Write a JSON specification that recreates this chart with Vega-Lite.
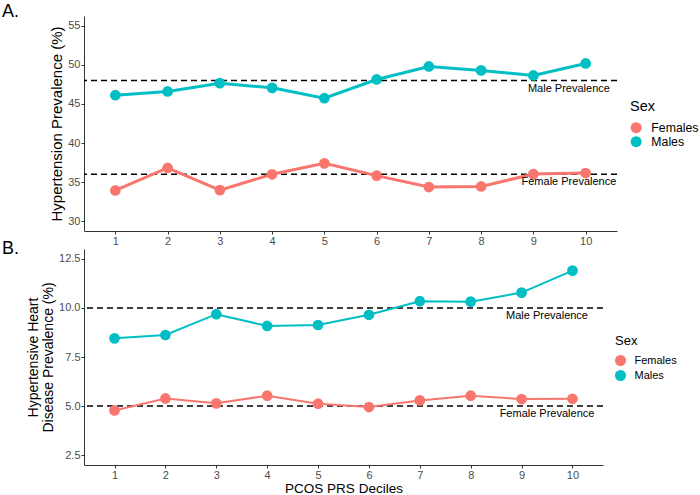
{
  "$schema": "https://vega.github.io/schema/vega-lite/v6.json",
  "padding": {"left": 2, "top": 3, "right": 0, "bottom": 0},
  "background": "white",
  "spacing": -6,
  "config": {
    "view": {"stroke": null},
    "font": "Liberation Sans",
    "axis": {
      "grid": false,
      "domainColor": "#333333",
      "domainWidth": 1,
      "tickColor": "#333333",
      "tickSize": 3,
      "labelColor": "#4D4D4D",
      "labelFontSize": 11,
      "labelPadding": 1,
      "titleColor": "black",
      "titleFontWeight": "normal"
    },
    "legend": {
      "titleFontWeight": "normal",
      "titleColor": "black",
      "labelColor": "black",
      "symbolType": "circle",
      "symbolStrokeWidth": 0
    }
  },
  "datasets": {
    "ht": [
      {"decile": 1, "sex": "Females", "value": 33.94},
      {"decile": 2, "sex": "Females", "value": 36.81},
      {"decile": 3, "sex": "Females", "value": 33.98},
      {"decile": 4, "sex": "Females", "value": 36.0},
      {"decile": 5, "sex": "Females", "value": 37.4},
      {"decile": 6, "sex": "Females", "value": 35.83},
      {"decile": 7, "sex": "Females", "value": 34.37},
      {"decile": 8, "sex": "Females", "value": 34.45},
      {"decile": 9, "sex": "Females", "value": 36.03},
      {"decile": 10, "sex": "Females", "value": 36.16},
      {"decile": 1, "sex": "Males", "value": 46.12},
      {"decile": 2, "sex": "Males", "value": 46.6},
      {"decile": 3, "sex": "Males", "value": 47.66},
      {"decile": 4, "sex": "Males", "value": 47.06},
      {"decile": 5, "sex": "Males", "value": 45.74},
      {"decile": 6, "sex": "Males", "value": 48.13},
      {"decile": 7, "sex": "Males", "value": 49.8},
      {"decile": 8, "sex": "Males", "value": 49.29},
      {"decile": 9, "sex": "Males", "value": 48.65},
      {"decile": 10, "sex": "Males", "value": 50.18}
    ],
    "htRef": [
      {"sex": "Males", "prev": 48, "label": "Male Prevalence"},
      {"sex": "Females", "prev": 36, "label": "Female Prevalence"}
    ],
    "hhd": [
      {"decile": 1, "sex": "Females", "value": 4.78},
      {"decile": 2, "sex": "Females", "value": 5.39},
      {"decile": 3, "sex": "Females", "value": 5.14},
      {"decile": 4, "sex": "Females", "value": 5.53},
      {"decile": 5, "sex": "Females", "value": 5.12},
      {"decile": 6, "sex": "Females", "value": 4.95},
      {"decile": 7, "sex": "Females", "value": 5.29},
      {"decile": 8, "sex": "Females", "value": 5.53},
      {"decile": 9, "sex": "Females", "value": 5.36},
      {"decile": 10, "sex": "Females", "value": 5.37},
      {"decile": 1, "sex": "Males", "value": 8.45},
      {"decile": 2, "sex": "Males", "value": 8.62},
      {"decile": 3, "sex": "Males", "value": 9.68},
      {"decile": 4, "sex": "Males", "value": 9.08},
      {"decile": 5, "sex": "Males", "value": 9.13},
      {"decile": 6, "sex": "Males", "value": 9.65},
      {"decile": 7, "sex": "Males", "value": 10.34},
      {"decile": 8, "sex": "Males", "value": 10.32},
      {"decile": 9, "sex": "Males", "value": 10.78},
      {"decile": 10, "sex": "Males", "value": 11.9}
    ],
    "hhdRef": [
      {"sex": "Males", "prev": 10, "label": "Male Prevalence"},
      {"sex": "Females", "prev": 5, "label": "Female Prevalence"}
    ]
  },
  "vconcat": [
    {
      "width": 533,
      "height": 215,
      "title": {"text": "A.", "anchor": "start", "frame": "group", "dx": -82, "offset": -19, "baseline": "alphabetic", "fontSize": 18, "fontWeight": "normal", "color": "black"},
      "layer": [
        {
          "data": {"name": "htRef"},
          "mark": {"type": "rule", "color": "black", "strokeWidth": 1.5, "strokeDash": [6, 4]},
          "encoding": {
            "y": {"field": "prev", "type": "quantitative", "scale": {"domain": [28.75, 56.25], "nice": false, "zero": false}}
          }
        },
        {
          "data": {"name": "ht"},
          "mark": {"type": "point", "filled": true, "size": 115, "opacity": 1},
          "encoding": {
            "x": {"field": "decile", "type": "quantitative", "scale": {"domain": [0.4, 10.6], "nice": false, "zero": false}, "axis": {"values": [1, 2, 3, 4, 5, 6, 7, 8, 9, 10], "title": null}},
            "y": {"field": "value", "type": "quantitative", "axis": {"values": [30, 35, 40, 45, 50, 55], "title": "Hypertension Prevalence (%)", "titleFontSize": 15, "titlePadding": 3}},
            "color": {"field": "sex", "type": "nominal", "scale": {"domain": ["Females", "Males"], "range": ["#F8766D", "#00BFC4"]},
              "legend": {"title": "Sex", "orient": "none", "legendX": 546, "legendY": 84, "titleFontSize": 14.5, "labelFontSize": 12.3, "symbolSize": 121, "titlePadding": 7, "rowPadding": 1, "labelOffset": 9}}
          }
        },
        {
          "data": {"name": "ht"},
          "mark": {"type": "line", "strokeWidth": 3},
          "encoding": {
            "x": {"field": "decile", "type": "quantitative"},
            "y": {"field": "value", "type": "quantitative"},
            "color": {"field": "sex", "type": "nominal", "legend": null}
          }
        },
        {
          "data": {"name": "htRef"},
          "mark": {"type": "text", "fontSize": 11, "color": "black", "dy": 8, "baseline": "middle", "align": "center"},
          "encoding": {
            "x": {"datum": 9.68, "type": "quantitative"},
            "y": {"field": "prev", "type": "quantitative"},
            "text": {"field": "label"}
          }
        }
      ]
    },
    {
      "width": 519,
      "height": 216,
      "title": {"text": "B.", "anchor": "start", "frame": "group", "dx": -82, "offset": -23, "baseline": "alphabetic", "fontSize": 18, "fontWeight": "normal", "color": "black"},
      "layer": [
        {
          "data": {"name": "hhdRef"},
          "mark": {"type": "rule", "color": "black", "strokeWidth": 1.5, "strokeDash": [6, 4]},
          "encoding": {
            "y": {"field": "prev", "type": "quantitative", "scale": {"domain": [2, 13], "nice": false, "zero": false}}
          }
        },
        {
          "data": {"name": "hhd"},
          "mark": {"type": "point", "filled": true, "size": 115, "opacity": 1},
          "encoding": {
            "x": {"field": "decile", "type": "quantitative", "scale": {"domain": [0.4, 10.6], "nice": false, "zero": false}, "axis": {"values": [1, 2, 3, 4, 5, 6, 7, 8, 9, 10], "title": "PCOS PRS Deciles", "titleFontSize": 13.5, "titlePadding": 1}},
            "y": {"field": "value", "type": "quantitative", "axis": {"values": [2.5, 5, 7.5, 10, 12.5], "format": ".1f", "title": ["Hypertensive Heart", "Disease Prevalence (%)"], "titleFontSize": 14, "titlePadding": 3, "titleLineHeight": 15}},
            "color": {"field": "sex", "type": "nominal", "scale": {"domain": ["Females", "Males"], "range": ["#F8766D", "#00BFC4"]},
              "legend": {"title": "Sex", "orient": "none", "legendX": 531, "legendY": 86, "titleFontSize": 13, "labelFontSize": 11, "symbolSize": 121, "titlePadding": 7, "rowPadding": 3, "labelOffset": 8.5}}
          }
        },
        {
          "data": {"name": "hhd"},
          "mark": {"type": "line", "strokeWidth": 2},
          "encoding": {
            "x": {"field": "decile", "type": "quantitative"},
            "y": {"field": "value", "type": "quantitative"},
            "color": {"field": "sex", "type": "nominal", "legend": null}
          }
        },
        {
          "data": {"name": "hhdRef"},
          "mark": {"type": "text", "fontSize": 11, "color": "black", "dy": 8, "baseline": "middle", "align": "center"},
          "encoding": {
            "x": {"datum": 9.5, "type": "quantitative"},
            "y": {"field": "prev", "type": "quantitative"},
            "text": {"field": "label"}
          }
        }
      ]
    }
  ],
  "resolve": {"scale": {"color": "independent"}, "legend": {"color": "independent"}}
}
